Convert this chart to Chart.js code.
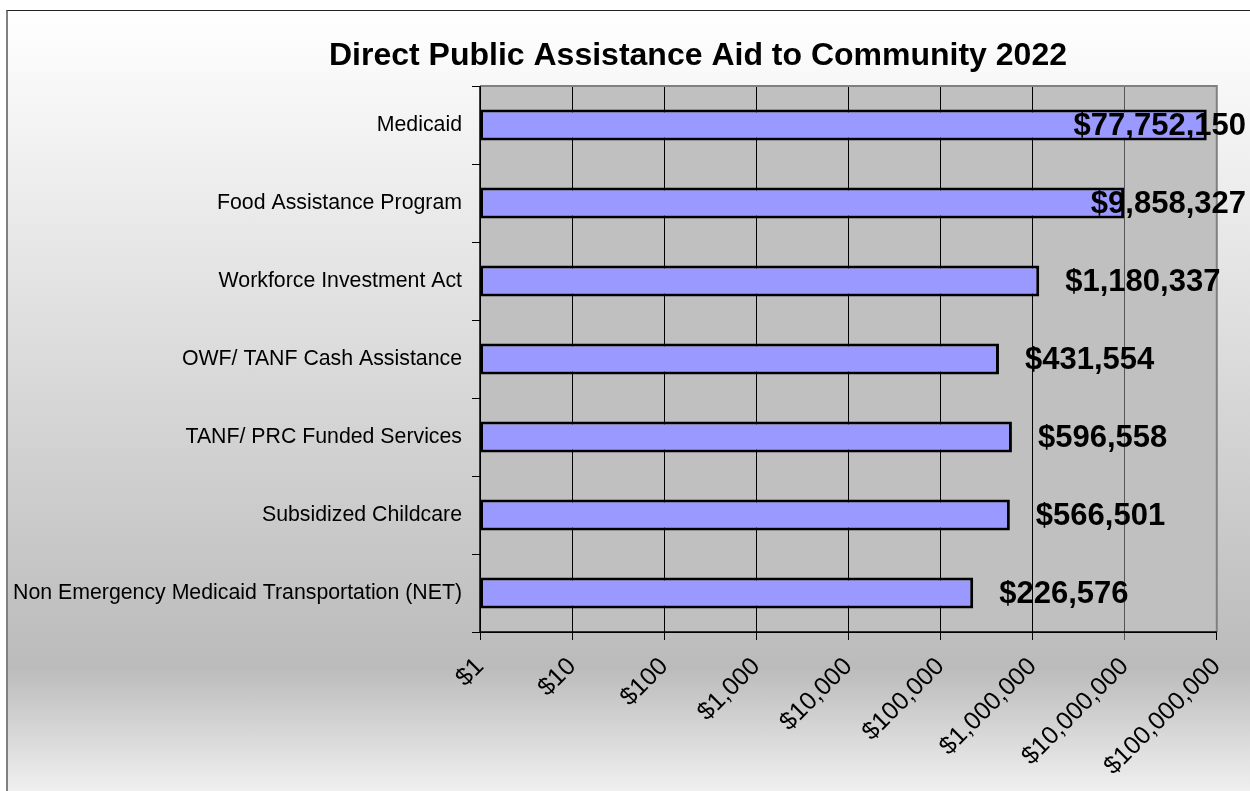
<!DOCTYPE html>
<html>
<head>
<meta charset="utf-8">
<title>Direct Public Assistance Aid to Community 2022</title>
<script src="https://cdn.jsdelivr.net/npm/chart.js@4/dist/chart.umd.min.js"></script>
<style>
  html, body { margin: 0; padding: 0; background: #fff; }
  body { width: 1250px; height: 791px; position: relative; overflow: hidden; }
  #frame {
    position: absolute; left: 6px; top: 10px; width: 1260px; height: 800px;
    border-left: 2px solid #808080; border-top: 1px solid #222;
    background: linear-gradient(to bottom, #ffffff 0%, #bbbbbb 82%, #f8f8f8 100%);
  }
  #wrap { position: absolute; left: 0; top: 0; width: 1250px; height: 791px; }
</style>
</head>
<body>
<div id="frame"></div>
<div id="wrap"><canvas id="aidChart" width="1250" height="791"></canvas></div>
<script>
// Chart data
const chartTitle = 'Direct Public Assistance Aid to Community 2022';
const programs = [
  'Medicaid',
  'Food Assistance Program',
  'Workforce Investment Act',
  'OWF/ TANF Cash Assistance',
  'TANF/ PRC Funded Services',
  'Subsidized Childcare',
  'Non Emergency Medicaid Transportation (NET)'
];
const aidAmounts = [77752150, 9858327, 1180337, 431554, 596558, 566501, 226576];
const axisTicks = [1, 10, 100, 1000, 10000, 100000, 1000000, 10000000, 100000000];

const FONT = '"Liberation Sans", Arial, sans-serif';

function dollars(v) {
  return '$' + Math.round(v).toLocaleString('en-US');
}

// Grey plot area with its frame (drawn under the bars and labels)
const plotArea = {
  id: 'plotArea',
  beforeDraw(chart) {
    const { ctx, chartArea: a } = chart;
    ctx.save();
    ctx.fillStyle = '#c0c0c0';
    ctx.fillRect(a.left, a.top, a.right - a.left, a.bottom - a.top);
    ctx.restore();
  },
  beforeDatasetsDraw(chart) {
    const { ctx, chartArea: a } = chart;
    ctx.save();
    ctx.strokeStyle = '#808080';
    ctx.lineWidth = 2;
    ctx.beginPath();
    ctx.moveTo(a.left, a.top);
    ctx.lineTo(a.right, a.top);
    ctx.lineTo(a.right, a.bottom);
    ctx.stroke();
    ctx.strokeStyle = '#000';
    ctx.lineWidth = 1.5;
    ctx.beginPath();
    ctx.moveTo(a.left, a.top);
    ctx.lineTo(a.left, a.bottom);
    ctx.lineTo(a.right, a.bottom);
    ctx.stroke();
    ctx.restore();
  }
};

// Title, placed like the original
const titleText = {
  id: 'titleText',
  afterDraw(chart) {
    const { ctx } = chart;
    ctx.save();
    ctx.font = 'bold 32px ' + FONT;
    ctx.fillStyle = '#000';
    ctx.textAlign = 'center';
    ctx.textBaseline = 'middle';
    ctx.fillText(chartTitle, 698, 56);
    ctx.restore();
  }
};

// Value labels after the bar end, pushed back inside when they would overflow
const valueLabels = {
  id: 'valueLabels',
  afterDatasetsDraw(chart) {
    const { ctx } = chart;
    const meta = chart.getDatasetMeta(0);
    ctx.save();
    ctx.font = 'bold 31px ' + FONT;
    ctx.fillStyle = '#000';
    ctx.textAlign = 'left';
    ctx.textBaseline = 'middle';
    meta.data.forEach((bar, i) => {
      const text = dollars(aidAmounts[i]);
      const w = ctx.measureText(text).width;
      let x = bar.x + 26;
      if (x + w > chart.width - 4) x = chart.width - 4 - w;
      ctx.fillText(text, x, bar.y + 1);
    });
    ctx.restore();
  }
};

new Chart(document.getElementById('aidChart'), {
  type: 'bar',
  data: {
    labels: programs,
    datasets: [{
      label: 'Aid',
      data: aidAmounts,
      backgroundColor: '#9999ff',
      borderColor: '#000',
      borderWidth: 3,
      borderSkipped: false,
      barPercentage: 0.4,
      categoryPercentage: 1
    }]
  },
  options: {
    indexAxis: 'y',
    responsive: false,
    animation: false,
    layout: {
      padding: { top: 86, right: 32, bottom: 0, left: 0 }
    },
    plugins: {
      legend: { display: false },
      title: { display: false },
      tooltip: { enabled: false }
    },
    scales: {
      x: {
        type: 'logarithmic',
        min: 1,
        max: 100000000,
        afterBuildTicks(scale) {
          scale.ticks = axisTicks.map(v => ({ value: v }));
        },
        afterFit(scale) {
          scale.height = 159;
        },
        ticks: {
          color: '#000',
          font: { family: FONT, size: 25 },
          minRotation: 45,
          maxRotation: 45,
          padding: 12,
          autoSkip: false,
          callback: function(value) {
            return dollars(value);
          }
        },
        grid: {
          color: function(c) {
            return c.tick && c.tick.value === 10000000 ? '#555' : '#000';
          },
          lineWidth: 1,
          tickLength: 8,
          drawOnChartArea: true
        },
        border: { color: '#000', width: 1 }
      },
      y: {
        afterFit(scale) {
          scale.width = 480;
        },
        ticks: {
          color: '#000',
          font: { family: FONT, size: 21.3 },
          padding: 10
        },
        grid: {
          offset: true,
          drawOnChartArea: false,
          color: '#000',
          tickLength: 8
        },
        border: { color: '#000', width: 1 }
      }
    }
  },
  plugins: [plotArea, valueLabels, titleText]
});
</script>
</body>
</html>
